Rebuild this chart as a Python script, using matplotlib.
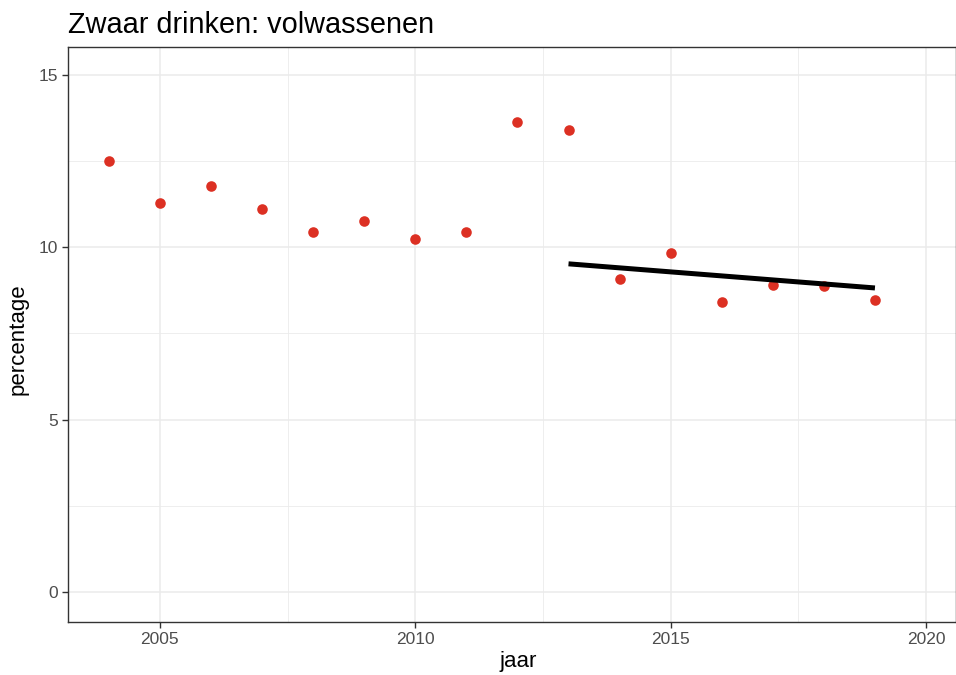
import matplotlib
matplotlib.use("Agg")
import matplotlib.pyplot as plt
import numpy as np

plt.rcParams['font.family'] = ['Liberation Sans', 'DejaVu Sans']

years = [2004, 2005, 2006, 2007, 2008, 2009, 2010, 2011, 2012, 2013,
         2014, 2015, 2016, 2017, 2018, 2019]
percentage = [12.50, 11.29, 11.78, 11.11, 10.44, 10.76, 10.24, 10.44, 13.63, 13.40,
              9.08, 9.83, 8.41, 8.91, 8.88, 8.47]
trend_years = [2013, 2019]
trend_values = [9.52, 8.82]

x_ticks = [2005, 2010, 2015, 2020]
y_ticks = [0, 5, 10, 15]

W, H = 956, 675
fig = plt.figure(figsize=(W / 100, H / 100), dpi=100)
ax = fig.add_axes([68 / W, (H - 622) / H, (W - 68) / W, (622 - 47) / H])

ax.set_xlim(2003.2, 2020.587)
ax.set_ylim(-0.87, 15.81)

ax.set_xticks(x_ticks)
ax.set_yticks(y_ticks)
ax.set_xticks([2007.5, 2012.5, 2017.5], minor=True)
ax.set_yticks([2.5, 7.5, 12.5], minor=True)
ax.grid(which='major', color='#EBEBEB', linewidth=1.1)
ax.grid(which='minor', color='#EBEBEB', linewidth=0.6)
ax.set_axisbelow(True)
ax.tick_params(which='minor', length=0)
ax.tick_params(which='major', length=4, width=1, color='#333333',
               labelcolor='#4D4D4D', labelsize=12.5, pad=3)

for s in ax.spines.values():
    s.set_color('#333333')
    s.set_linewidth(1.0)

ax.scatter(years, percentage, s=58, color='#DC3023', zorder=3, linewidths=0)
ax.plot(trend_years, trend_values, color='black', linewidth=3.6, zorder=4,
        solid_capstyle='butt')

ax.set_xlabel('jaar', fontsize=16, labelpad=4)
ax.xaxis.set_label_coords((518 - 68) / 888, -0.050, transform=ax.transAxes)
ax.set_ylabel('percentage', fontsize=16, labelpad=6)
ax.yaxis.set_label_coords(-0.044, (622 - 339) / 575, transform=ax.transAxes)
fig.text(68 / W, 1 - 33 / H, 'Zwaar drinken: volwassenen', fontsize=20.8,
         ha='left', va='baseline')

fig.savefig('out.png', dpi=100)
